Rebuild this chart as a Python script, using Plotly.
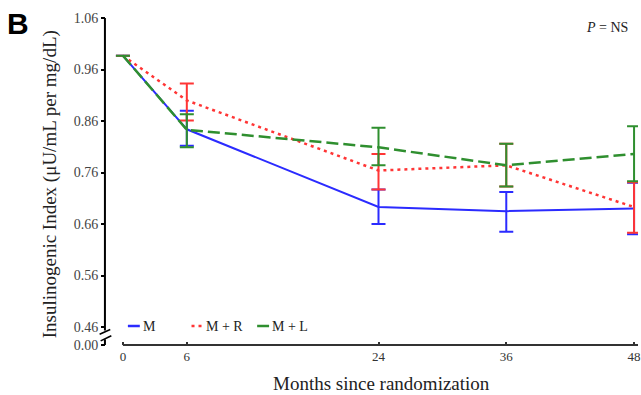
import plotly.graph_objects as go

months = [0, 6, 24, 36, 48]

m_vals = [0.987, 0.844, 0.693, 0.685, 0.690]
m_hi = [0.987, 0.880, 0.727, 0.722, 0.740]
m_lo = [0.987, 0.812, 0.660, 0.645, 0.640]

mr_vals = [0.987, 0.900, 0.764, 0.774, 0.693]
mr_hi = [0.987, 0.933, 0.796, 0.816, 0.741]
mr_lo = [0.987, 0.861, 0.727, 0.733, 0.643]

ml_vals = [0.987, 0.843, 0.809, 0.774, 0.796]
ml_hi = [0.987, 0.873, 0.847, 0.816, 0.850]
ml_lo = [0.987, 0.809, 0.774, 0.733, 0.743]

y_tickvals = [0.425, 0.46, 0.56, 0.66, 0.76, 0.86, 0.96, 1.06]
y_ticktext = ["0.00", "0.46", "0.56", "0.66", "0.76", "0.86", "0.96", "1.06"]
x_tickvals = [0, 6, 24, 36, 48]

series = [
    ("M", m_vals, m_hi, m_lo, "#2b2bff", "solid", 2),
    ("M + R", mr_vals, mr_hi, mr_lo, "#ff3535", "3px,4px", 2.5),
    ("M + L", ml_vals, ml_hi, ml_lo, "#2f8f2f", "12px,5px", 2.5),
]

SERIF = "Liberation Serif, Times New Roman, serif"

fig = go.Figure()
for name, v, hi, lo, col, dash, w in series:
    fig.add_trace(go.Scatter(
        x=months, y=v, mode="lines", name=name,
        line=dict(color=col, dash=dash, width=w),
        error_y=dict(type="data", symmetric=False,
                     array=[h - a for h, a in zip(hi, v)],
                     arrayminus=[a - l for a, l in zip(v, lo)],
                     color=col, thickness=2, width=7),
        showlegend=False,
    ))

shapes = []
# y axis line (broken)
shapes.append(dict(type="line", xref="paper", yref="y", x0=-0.002, x1=-0.002, y0=0.453, y1=1.06,
                   line=dict(color="black", width=2)))
shapes.append(dict(type="line", xref="paper", yref="y", x0=-0.002, x1=-0.002, y0=0.425, y1=0.436,
                   line=dict(color="black", width=2)))
shapes.append(dict(type="path", xref="paper", yref="y",
                   path="M -0.012,0.446 L 0.008,0.455", line=dict(color="black", width=1.6)))
shapes.append(dict(type="path", xref="paper", yref="y",
                   path="M -0.010,0.433 L 0.010,0.443", line=dict(color="black", width=1.6)))
# x axis line starting at 0
shapes.append(dict(type="line", xref="x", yref="paper", x0=0, x1=48.4, y0=0, y1=0,
                   line=dict(color="#333333", width=2)))

# manual legend
leg = [("M", 128, "#2b2bff", "solid"), ("M + R", 192, "#ff3535", "3px,4px"), ("M + L", 258, "#2f8f2f", "solid")]
annotations = []
for name, px, col, dash in leg:
    x0 = (px - 106) / 535
    x1 = (px + 12 - 106) / 535
    shapes.append(dict(type="line", xref="paper", yref="paper", x0=x0, x1=x1,
                       y0=(345 - 326) / 330, y1=(345 - 326) / 330,
                       line=dict(color=col, width=2.5, dash=dash)))
    annotations.append(dict(text=name, xref="paper", yref="paper", x=(px + 13 - 106) / 535,
                            y=(345 - 326) / 330, xanchor="left", yanchor="middle",
                            showarrow=False, font=dict(family=SERIF, size=14, color="#222")))

annotations.append(dict(text="<b>B</b>", xref="paper", yref="paper", x=-0.19, y=1.03,
                        xanchor="left", yanchor="top", showarrow=False,
                        font=dict(family="Liberation Sans, Arial, sans-serif", size=30, color="black")))
annotations.append(dict(text="<i>P</i> = NS", xref="paper", yref="paper", x=0.985, y=0.961,
                        xanchor="right", yanchor="middle", showarrow=False,
                        font=dict(family=SERIF, size=14, color="#222")))
annotations.append(dict(text="Months since randomization", xref="paper", yref="paper",
                        x=(383 - 106) / 535, y=-(383 - 345) / 330, xanchor="center", yanchor="middle",
                        showarrow=False, font=dict(family=SERIF, size=19, color="#222")))
annotations.append(dict(text="Insulinogenic Index (μU/mL per mg/dL)", xref="paper", yref="paper",
                        x=(50 - 106) / 535, y=(345 - 184) / 330, xanchor="center", yanchor="middle",
                        textangle=-90, showarrow=False, font=dict(family=SERIF, size=19, color="#222")))

fig.update_layout(
    width=641, height=395,
    margin=dict(l=106, r=0, t=15, b=50),
    plot_bgcolor="white", paper_bgcolor="white",
    shapes=shapes, annotations=annotations,
    xaxis=dict(range=[-1.59, 48.37], tickvals=x_tickvals, ticks="inside", ticklen=3,
               tickwidth=2, tickcolor="#333", showline=False, showgrid=False, zeroline=False,
               ticklabeloverflow="allow", ticklabelstandoff=2,
               tickfont=dict(family=SERIF, size=13, color="#333")),
    yaxis=dict(range=[0.425, 1.066], tickvals=y_tickvals, ticktext=y_ticktext,
               ticks="outside", ticklen=4, tickwidth=1.5, tickcolor="black",
               showline=False, showgrid=False, zeroline=False,
               tickfont=dict(family=SERIF, size=14, color="#444")),
)

fig.write_html("out.html")
